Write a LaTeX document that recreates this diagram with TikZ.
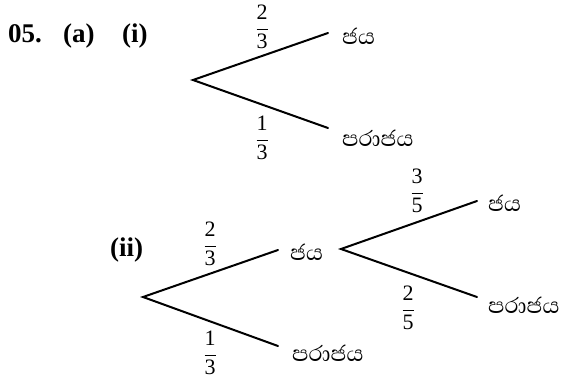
\documentclass[tikz,border=0pt]{standalone}
\usepackage{fontspec}
\setmainfont{Liberation Serif}
\newfontfamily\sinhala[Script=Sinhala]{Abhaya Libre}
\usetikzlibrary{positioning}
\newcommand\probfrac[2]{\setlength\arrayrulewidth{1.3pt}\renewcommand\arraystretch{1.12}%
  \begin{tabular}{@{}c@{}}#1\\[1pt]\hline#2\end{tabular}}
\tikzset{
  branch/.style={line width=2pt, line cap=round},
  outcome/.style={font=\sinhala\fontsize{28}{30}\selectfont, anchor=west, inner sep=0pt},
  prob/.style={font=\fontsize{22}{24}\selectfont, inner sep=0pt},
  head/.style={font=\bfseries\fontsize{27}{30}\selectfont, inner sep=0pt, anchor=base west}
}
\begin{document}
\begin{tikzpicture}[x=1pt,y=-1pt]
  \useasboundingbox (0,0) rectangle (561,380);
  % heading
  \node[head] (qno) at (8,42) {05.};
  \node[head] (pa) at (63,42) {(a)};
  \node[head] (pi) at (122,42) {(i)};
  \node[head] (pii) at (110,256) {(ii)};
  % tree (i)
  \coordinate (r1) at (193,80);
  \coordinate (w1) at (328,33);
  \coordinate (l1) at (328,128);
  \node[outcome] (jw1) at (342,36) {ජය};
  \node[outcome] (jl1) at (342,138) {පරාජය};
  \node[prob] (p1w) at (262,29) {\probfrac{2}{3}};
  \node[prob] (p1l) at (262,140) {\probfrac{1}{3}};
  \draw[branch] (w1) -- (r1) -- (l1);
  % tree (ii)
  \coordinate (r2) at (143,297);
  \coordinate (w2) at (278,250);
  \coordinate (l2) at (278,346);
  \node[outcome] (jw2) at (290,252) {ජය};
  \node[outcome] (jl2) at (292,353) {පරාජය};
  \node[prob] (p2w) at (210,246) {\probfrac{2}{3}};
  \node[prob] (p2l) at (210,355) {\probfrac{1}{3}};
  \draw[branch] (w2) -- (r2) -- (l2);
  % second stage
  \coordinate (r3) at (341,249);
  \coordinate (w3) at (477,201);
  \coordinate (l3) at (477,297);
  \node[outcome] (jw3) at (488,203) {ජය};
  \node[outcome] (jl3) at (488,305) {පරාජය};
  \node[prob] (p3w) at (417,193) {\probfrac{3}{5}};
  \node[prob] (p3l) at (408,310) {\probfrac{2}{5}};
  \draw[branch] (w3) -- (r3) -- (l3);
\end{tikzpicture}
\end{document}
